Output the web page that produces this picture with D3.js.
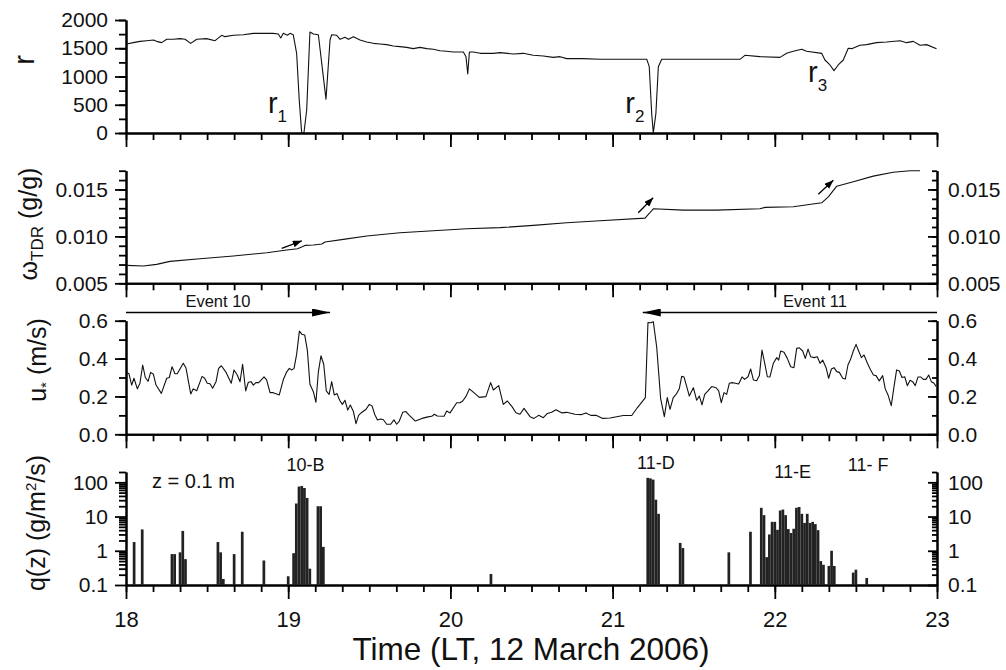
<!DOCTYPE html>
<html>
<head>
<meta charset="utf-8">
<script src="https://cdn.jsdelivr.net/npm/d3@7"></script>
<style>
  body { margin: 0; background: #fff; }
  svg { font-family: Arial, "Liberation Sans", sans-serif; }
</style>
</head>
<body>
<svg id="chart" width="1006" height="670"></svg>
<script>
// r series (panel 1)
const rTime = [18.004,18.045,18.086,18.127,18.169,18.189,18.220,18.251,18.292,18.333,18.364,18.399,18.436,18.497,18.549,18.590,18.610,18.662,18.723,18.785,18.847,18.908,18.939,18.954,18.970,18.995,19.011,19.031,19.052,19.068,19.083,19.097,19.114,19.134,19.155,19.186,19.233,19.258,19.268,19.299,19.320,19.350,19.371,19.402,19.443,19.484,19.525,19.566,19.607,19.648,19.689,19.730,19.771,19.813,19.854,19.895,19.936,19.977,20.018,20.080,20.096,20.107,20.117,20.142,20.183,20.224,20.265,20.306,20.388,20.449,20.511,20.573,20.634,20.676,20.717,20.819,20.922,21.025,21.128,21.211,21.226,21.241,21.251,21.267,21.282,21.303,21.539,21.785,21.816,21.908,22.032,22.073,22.114,22.166,22.196,22.289,22.309,22.340,22.365,22.391,22.422,22.453,22.474,22.525,22.566,22.627,22.689,22.772,22.813,22.854,22.895,22.936,22.997];
const rValue = [1575,1599,1622,1634,1646,1622,1599,1658,1658,1670,1658,1587,1658,1670,1634,1729,1705,1729,1740,1764,1764,1764,1752,1682,1764,1729,1764,1740,1410,584,6,0,407,1788,1752,1740,596,1646,1740,1729,1658,1693,1658,1705,1646,1611,1587,1575,1564,1540,1528,1516,1493,1516,1493,1481,1457,1446,1434,1434,1351,1044,1434,1434,1410,1410,1410,1422,1398,1410,1375,1363,1339,1351,1316,1316,1304,1304,1304,1304,1174,348,0,348,1174,1304,1304,1304,1375,1351,1339,1410,1446,1481,1446,1410,1292,1204,1103,1204,1292,1499,1493,1552,1564,1599,1611,1634,1599,1622,1552,1564,1493];

// soil moisture (panel 2)
const wTime = [18.004,18.107,18.189,18.271,18.456,18.662,18.868,18.991,19.058,19.104,19.155,19.207,19.227,19.340,19.484,19.689,19.895,20.100,20.306,20.511,20.717,20.922,21.200,21.230,21.251,21.436,21.641,21.908,21.939,22.114,22.289,22.330,22.382,22.484,22.607,22.730,22.834,22.895];
const wValue = [0.00691,0.00684,0.00702,0.00734,0.00762,0.00791,0.00826,0.00855,0.00869,0.00904,0.00908,0.00918,0.0094,0.00968,0.01004,0.01039,0.0106,0.01082,0.01093,0.01117,0.01145,0.01167,0.01195,0.01252,0.01294,0.0128,0.0128,0.01294,0.01309,0.01316,0.01358,0.01422,0.01535,0.01582,0.01642,0.01684,0.01699,0.01699];

// friction velocity (panel 3)
const uTime = [18.004,18.018,18.035,18.049,18.070,18.086,18.103,18.119,18.136,18.152,18.169,18.185,18.218,18.251,18.267,18.284,18.302,18.316,18.353,18.370,18.399,18.415,18.436,18.469,18.485,18.501,18.518,18.534,18.555,18.571,18.588,18.617,18.649,18.666,18.686,18.703,18.719,18.738,18.754,18.771,18.785,18.801,18.818,18.851,18.867,18.888,18.908,18.945,18.970,18.991,19.007,19.023,19.036,19.052,19.069,19.085,19.102,19.118,19.134,19.155,19.171,19.186,19.202,19.219,19.235,19.252,19.268,19.284,19.301,19.317,19.334,19.350,19.367,19.383,19.402,19.418,19.434,19.451,19.480,19.500,19.517,19.533,19.550,19.570,19.587,19.607,19.632,19.652,19.669,19.685,19.706,19.726,19.747,19.784,19.825,19.862,19.885,19.901,19.919,19.961,19.977,19.998,20.039,20.059,20.076,20.096,20.117,20.145,20.178,20.219,20.248,20.265,20.298,20.326,20.351,20.380,20.404,20.429,20.454,20.491,
  20.515,20.544,20.573,20.598,20.624,20.651,20.688,20.717,20.768,20.809,20.836,20.865,20.898,20.939,20.984,21.025,21.066,21.118,21.152,21.179,21.202,21.218,21.235,21.251,21.272,21.296,21.319,21.337,21.354,21.374,21.395,21.411,21.426,21.440,21.457,21.473,21.498,21.518,21.535,21.551,21.568,21.588,21.611,21.638,21.654,21.670,21.687,21.703,21.720,21.736,21.757,21.777,21.798,21.814,21.835,21.851,21.868,21.888,21.905,21.921,21.938,21.954,21.970,21.991,22.012,22.024,22.036,22.057,22.077,22.098,22.118,22.135,22.151,22.172,22.188,22.205,22.221,22.242,22.262,22.279,22.295,22.316,22.332,22.349,22.365,22.382,22.398,22.419,22.435,22.451,22.468,22.484,22.501,22.517,22.534,22.550,22.571,22.591,22.608,22.624,22.644,22.665,22.681,22.698,22.718,22.735,22.751,22.768,22.784,22.801,22.817,22.834,22.850,22.866,22.883,22.899,22.916,22.932,22.949,22.965,22.982,22.994];
const uValue = [0.327,0.32,0.26,0.296,0.24,0.27,0.366,0.30,0.28,0.327,0.317,0.26,0.216,0.296,0.30,0.357,0.32,0.32,0.375,0.35,0.213,0.24,0.23,0.306,0.296,0.27,0.267,0.243,0.278,0.348,0.362,0.327,0.27,0.34,0.313,0.278,0.37,0.229,0.275,0.278,0.26,0.273,0.273,0.303,0.287,0.22,0.22,0.208,0.289,0.33,0.348,0.34,0.348,0.422,0.545,0.528,0.524,0.445,0.264,0.225,0.169,0.33,0.415,0.37,0.229,0.21,0.278,0.208,0.215,0.18,0.158,0.18,0.128,0.155,0.12,0.056,0.10,0.114,0.132,0.158,0.15,0.106,0.076,0.081,0.077,0.053,0.053,0.076,0.053,0.07,0.116,0.12,0.10,0.07,0.084,0.092,0.095,0.106,0.097,0.095,0.123,0.113,0.167,0.167,0.176,0.2,0.24,0.22,0.195,0.199,0.273,0.234,0.257,0.158,0.176,0.146,0.114,0.106,0.137,0.093,
  0.084,0.10,0.088,0.11,0.116,0.13,0.113,0.116,0.106,0.104,0.113,0.10,0.10,0.084,0.086,0.093,0.099,0.099,0.14,0.169,0.194,0.59,0.589,0.595,0.46,0.19,0.093,0.194,0.132,0.194,0.215,0.24,0.306,0.303,0.252,0.202,0.246,0.18,0.202,0.155,0.211,0.229,0.252,0.246,0.229,0.167,0.22,0.211,0.27,0.273,0.27,0.266,0.303,0.29,0.304,0.345,0.287,0.283,0.31,0.445,0.375,0.304,0.303,0.375,0.405,0.392,0.44,0.433,0.401,0.357,0.352,0.454,0.457,0.44,0.401,0.45,0.41,0.405,0.41,0.375,0.392,0.352,0.296,0.345,0.352,0.331,0.327,0.296,0.292,0.366,0.398,0.44,0.475,0.44,0.405,0.419,0.375,0.34,0.313,0.31,0.282,0.31,0.24,0.208,0.151,0.252,0.34,0.334,0.30,0.304,0.257,0.285,0.278,0.257,0.303,0.303,0.29,0.29,0.313,0.278,0.27,0.252];

// sand flux at z = 0.1 m (panel 4), minutes after 18:00
const qMinute = [3,6,17,18,20,21,22,34,35,36,40,43,51,60,62,63,64,65,66,67,68,71,72,73,135,193,194,195,196,197,205,206,223,231,235,236,237,238,239,240,241,242,243,244,245,246,247,248,249,250,251,252,253,254,255,256,257,258,260,261,262,269,270,274];
const qValue = [1.8,4.2,0.8,0.8,0.9,3.8,0.57,1.8,0.9,0.15,0.8,3.6,0.52,0.18,0.85,24,75,78,68,35,0.3,20,20,1.3,0.21,135,130,120,31,12,1.7,1.2,0.9,3.6,18,11,0.65,3,7,7,4.1,15,16,11,4.3,3.3,4.4,18,19,12,6.5,12,6.5,7,6,4,0.5,0.39,0.36,1.0,0.36,0.23,0.28,0.16];

// annotations
const hourLabels = [18, 19, 20, 21, 22, 23];
const rLabels = ["1", "2", "3"];
const rLabelTime = [18.875, 21.078, 22.205];
const rLabelValue = [350, 350, 900];
const wArrowFrom = [[18.960, 0.00872], [21.158, 0.01251], [22.268, 0.01450]];
const wArrowTo = [[19.084, 0.00953], [21.250, 0.01411], [22.361, 0.01599]];
const eventNames = ["Event 10", "Event 11"];
const eventFrom = [18.0, 23.0];
const eventTo = [19.258, 21.186];
const eventLabelTime = [18.567, 22.248];
const qEventNames = ["10-B", "11-D", "11-E", "11- F"];
const qEventTime = [19.107, 21.267, 22.11, 22.575];
const qEventValue = [210, 240, 135, 220];

const left = 126, right = 937;
const svg = d3.select("#chart");
const x = d3.scaleLinear().domain([18, 23]).range([left, right]);

const hourTicks = hourLabels;
const tenMinTicks = d3.range(0, 31).map((i) => 18 + i / 6);

const yR = d3.scaleLinear().domain([0, 2000]).range([133, 20]);
const yW = d3.scaleLinear().domain([0.005, 0.017]).range([283.3, 170.7]);
const yU = d3.scaleLinear().domain([0, 0.6]).range([434.3, 320.7]);
const yQ = d3.scaleLog().domain([0.1, 200]).range([585, 472]);

const logMinor = [];
[0.1, 1, 10, 100].forEach((dec) => {
  for (let k = 2; k <= 9; k++) if (k * dec <= 200) logMinor.push(k * dec);
});

function place(gen, tx, ty) {
  const g = svg.append("g").attr("transform", `translate(${tx},${ty})`).call(gen);
  g.select(".domain").attr("stroke", "#000").attr("stroke-width", 2);
  g.selectAll(".tick line").attr("stroke", "#000").attr("stroke-width", 1.8);
  g.selectAll(".tick text").attr("fill", "#111").style("font-size", "21px")
    .style("font-family", "Arial, 'Liberation Sans', sans-serif");
  return g;
}

const panels = [
  { y: yR, major: [0, 500, 1000, 1500, 2000], minor: d3.range(0, 2001, 250), fmt: d3.format("d"), rightAxis: false },
  { y: yW, major: [0.005, 0.010, 0.015], minor: d3.range(5, 17.01, 1).map((v) => v / 1000), fmt: d3.format(".3f"), rightAxis: true },
  { y: yU, major: [0, 0.2, 0.4, 0.6], minor: [0, 0.1, 0.2, 0.3, 0.4, 0.5, 0.6], fmt: d3.format(".1f"), rightAxis: true },
  { y: yQ, major: [0.1, 1, 10, 100], minor: logMinor, fmt: (d) => (d < 1 ? "0.1" : d3.format("d")(d)), rightAxis: true }
];

panels.forEach((p, i) => {
  const bottom = p.y.range()[0];
  // bottom time axis
  place(d3.axisBottom(x).tickValues(tenMinTicks).tickSize(7).tickSizeOuter(0).tickFormat(""), 0, bottom);
  const bx = place(d3.axisBottom(x).tickValues(hourTicks).tickSize(14).tickSizeOuter(0).tickPadding(12)
    .tickFormat(i === 3 ? d3.format("d") : ""), 0, bottom);
  if (i === 3) bx.selectAll(".tick text").style("font-size", "22px");
  // left axis
  place(d3.axisLeft(p.y).tickValues(p.minor).tickSize(7).tickSizeOuter(0).tickFormat(""), left, 0);
  place(d3.axisLeft(p.y).tickValues(p.major).tickSize(11).tickSizeOuter(0).tickPadding(7).tickFormat(p.fmt), left, 0);
  if (p.rightAxis) {
    place(d3.axisRight(p.y).tickValues(p.minor).tickSize(-5).tickSizeOuter(0).tickFormat(""), right, 0);
    place(d3.axisRight(p.y).tickValues(p.major).tickSize(-9).tickSizeOuter(0).tickPadding(11).tickFormat(p.fmt), right, 0);
  }
});

const lineStyle = (sel) => sel.attr("fill", "none").attr("stroke", "#111").attr("stroke-width", 1.1)
  .attr("stroke-linejoin", "round");

svg.append("path").datum(d3.zip(rTime, rValue))
  .attr("d", d3.line().x((d) => x(d[0])).y((d) => yR(d[1]))).call(lineStyle);
svg.append("path").datum(d3.zip(wTime, wValue))
  .attr("d", d3.line().x((d) => x(d[0])).y((d) => yW(d[1]))).call(lineStyle);
svg.append("path").datum(d3.zip(uTime, uValue))
  .attr("d", d3.line().x((d) => x(d[0])).y((d) => yU(d[1]))).call(lineStyle);

// flux bars
const barW = x(18 + 1 / 60) - x(18);
svg.append("g").selectAll("rect")
  .data(d3.zip(qMinute, qValue))
  .enter()
  .append("rect")
  .attr("x", (d) => x(18 + d[0] / 60) - barW / 2)
  .attr("y", (d) => yQ(d[1]))
  .attr("width", barW)
  .attr("height", (d) => yQ(0.1) - yQ(d[1]))
  .attr("fill", "#222");

// arrowheads
const defs = svg.append("defs");
defs.append("marker").attr("id", "headBig").attr("markerUnits", "userSpaceOnUse")
  .attr("viewBox", "0 0 18 8").attr("refX", 18).attr("refY", 4)
  .attr("markerWidth", 18).attr("markerHeight", 8).attr("orient", "auto")
  .append("path").attr("d", "M0,0 L18,4 L0,8 Z").attr("fill", "#000");
defs.append("marker").attr("id", "headSmall").attr("markerUnits", "userSpaceOnUse")
  .attr("viewBox", "0 0 9 7").attr("refX", 9).attr("refY", 3.5)
  .attr("markerWidth", 9).attr("markerHeight", 7).attr("orient", "auto")
  .append("path").attr("d", "M0,0 L9,3.5 L0,7 Z").attr("fill", "#000");

// moisture step arrows
svg.append("g").selectAll("line")
  .data(d3.zip(wArrowFrom, wArrowTo))
  .enter()
  .append("line")
  .attr("x1", (d) => x(d[0][0])).attr("y1", (d) => yW(d[0][1]))
  .attr("x2", (d) => x(d[1][0])).attr("y2", (d) => yW(d[1][1]))
  .attr("stroke", "#000").attr("stroke-width", 1.3)
  .attr("marker-end", "url(#headSmall)");

// event arrows
const eventY = 312.5;
eventNames.forEach((name, i) => {
  svg.append("line")
    .attr("x1", x(eventFrom[i])).attr("x2", x(eventTo[i]))
    .attr("y1", eventY).attr("y2", eventY)
    .attr("stroke", "#000").attr("stroke-width", 1.4)
    .attr("marker-end", "url(#headBig)");
  svg.append("text")
    .attr("x", x(eventLabelTime[i])).attr("y", eventY - 6)
    .attr("text-anchor", "middle").style("font-size", "16.5px").attr("fill", "#111")
    .text(name);
});

// r labels
rLabels.forEach((s, i) => {
  const t = svg.append("text")
    .attr("x", x(rLabelTime[i])).attr("y", yR(rLabelValue[i]))
    .style("font-size", "29px").attr("fill", "#111");
  t.append("tspan").text("r");
  t.append("tspan").attr("dy", 9).style("font-size", "17px").text(s);
});

// flux event labels
qEventNames.forEach((s, i) => {
  svg.append("text")
    .attr("x", x(qEventTime[i])).attr("y", yQ(qEventValue[i]))
    .attr("text-anchor", "middle").style("font-size", "18px").attr("fill", "#111")
    .text(s);
});
svg.append("text").attr("x", 152).attr("y", 488)
  .style("font-size", "20px").attr("fill", "#111").text("z = 0.1 m");

// axis titles
function yTitle(cx, cy, size) {
  return svg.append("text")
    .attr("transform", `translate(${cx},${cy}) rotate(-90)`)
    .attr("text-anchor", "middle").style("font-size", size + "px").attr("fill", "#111");
}
yTitle(34, 60, 29).text("r");
const tw = yTitle(37, 224, 25);
tw.append("tspan").text("ω");
tw.append("tspan").attr("dy", 6).style("font-size", "17px").text("TDR");
tw.append("tspan").attr("dy", -6).text(" (g/g)");
const tu = yTitle(46, 360, 25);
tu.append("tspan").text("u");
tu.append("tspan").attr("dy", 5).style("font-size", "15px").text("*");
tu.append("tspan").attr("dy", -5).text(" (m/s)");
const tq = yTitle(45, 523, 25);
tq.append("tspan").text("q(z) (g/m");
tq.append("tspan").attr("dy", -9).style("font-size", "15px").text("2");
tq.append("tspan").attr("dy", 9).text("/s)");

svg.append("text").attr("x", 531).attr("y", 660)
  .attr("text-anchor", "middle").style("font-size", "31.5px").attr("fill", "#111")
  .text("Time (LT, 12 March 2006)");
</script>
</body>
</html>
